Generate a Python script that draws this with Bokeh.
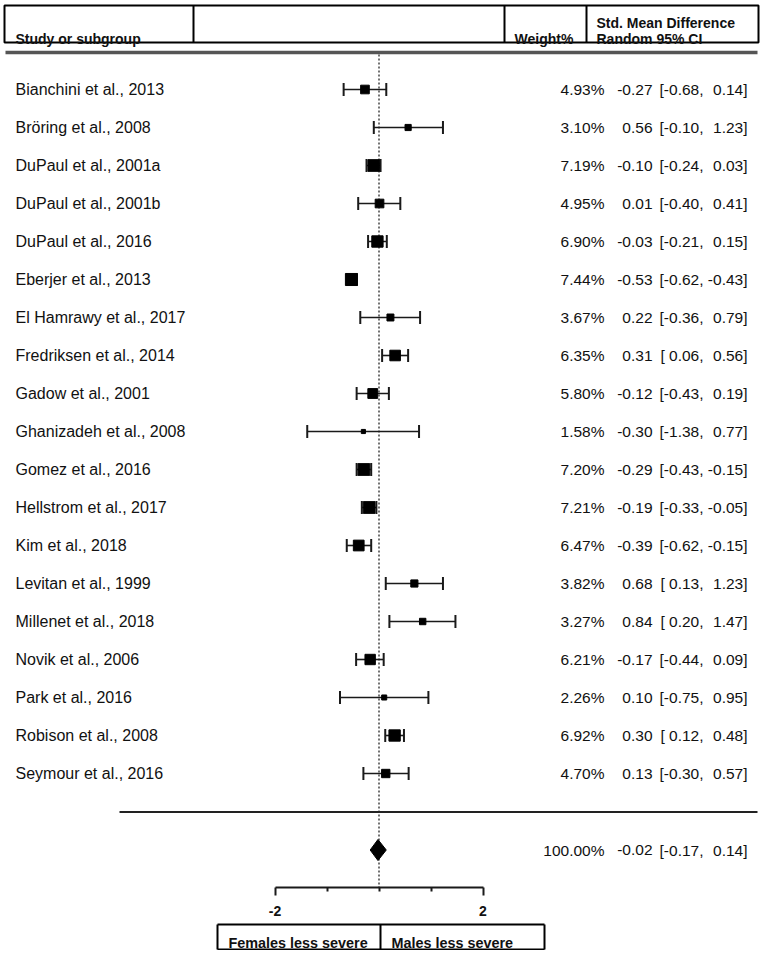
import math
from bokeh.plotting import figure
from bokeh.models import Range1d, LinearAxis, FixedTicker, ColumnDataSource
from bokeh.core.properties import value
from bokeh.embed import file_html
from bokeh.resources import INLINE

# ---------------- data ----------------
studies = [
    "Bianchini et al., 2013", "Bröring et al., 2008", "DuPaul et al., 2001a",
    "DuPaul et al., 2001b", "DuPaul et al., 2016", "Eberjer et al., 2013",
    "El Hamrawy et al., 2017", "Fredriksen et al., 2014", "Gadow et al., 2001",
    "Ghanizadeh et al., 2008", "Gomez et al., 2016", "Hellstrom et al., 2017",
    "Kim et al., 2018", "Levitan et al., 1999", "Millenet et al., 2018",
    "Novik et al., 2006", "Park et al., 2016", "Robison et al., 2008",
    "Seymour et al., 2016",
]
weights = [4.93, 3.10, 7.19, 4.95, 6.90, 7.44, 3.67, 6.35, 5.80, 1.58,
           7.20, 7.21, 6.47, 3.82, 3.27, 6.21, 2.26, 6.92, 4.70]
smd = [-0.27, 0.56, -0.10, 0.01, -0.03, -0.53, 0.22, 0.31, -0.12, -0.30,
       -0.29, -0.19, -0.39, 0.68, 0.84, -0.17, 0.10, 0.30, 0.13]
ci_low = [-0.68, -0.10, -0.24, -0.40, -0.21, -0.62, -0.36, 0.06, -0.43, -1.38,
          -0.43, -0.33, -0.62, 0.13, 0.20, -0.44, -0.75, 0.12, -0.30]
ci_high = [0.14, 1.23, 0.03, 0.41, 0.15, -0.43, 0.79, 0.56, 0.19, 0.77,
           -0.15, -0.05, -0.15, 1.23, 1.47, 0.09, 0.95, 0.48, 0.57]

total_weight = 100.00
total_smd = -0.02
total_low = -0.17
total_high = 0.14

axis_ticks = [-2, 2]
axis_minor_ticks = [-1, 0, 1]
axis_tick_labels = ["-2", "2"]
header_left = "Study or subgroup"
header_weight = "Weight%"
header_effect = ["Std. Mean Difference", "Random 95% CI"]
direction_labels = ["Females less severe", "Males less severe"]

# ---------------- layout helpers (page pixel -> data) ----------------
W, H = 762, 950
OX, OY = 0, 0                # page position of the figure
X0, K = 378.5, 52.0          # page x of zero effect, pixels per unit
ROW0, ROWH = 89.0, 38.0      # page y of first row, row spacing


def px(x):
    return (x - X0) / K


def py(y):
    return (y - ROW0) / ROWH


FONT = value("Liberation Sans")
INK = "#111111"
FS = "15.5px"

p = figure(width=W, height=H,
           x_range=Range1d(px(OX), px(OX + W)),
           y_range=Range1d(py(OY + H), py(OY)),
           x_axis_type=None, y_axis_type=None,
           output_backend="svg", toolbar_location=None,
           min_border=0, outline_line_color=None,
           background_fill_color="white", border_fill_color="white")

n = len(studies)
rows = list(range(n))
src = ColumnDataSource(dict(
    y=rows, name=studies, w=weights, smd=smd, lo=ci_low, hi=ci_high,
    size=[2.0 + 1.35 * w for w in weights],
    wtxt=[f"{w:.2f}%" for w in weights],
    stxt=[f"{s:.2f}" for s in smd],
    lotxt=[f"[{l:5.2f}," for l in ci_low],
    hitxt=[f"{h:.2f}]" for h in ci_high],
))

# header box
p.quad(left=px(4), right=px(758), top=py(5), bottom=py(42),
       fill_color=None, line_color="black", line_width=2)
p.segment(x0=[px(193), px(504), px(586)], y0=[py(5)] * 3,
          x1=[px(193), px(504), px(586)], y1=[py(42)] * 3,
          line_color="black", line_width=2)
p.text(x=[px(15), px(514)], y=[py(38.5)] * 2, text=[header_left, header_weight],
       text_font=FONT, text_font_size="14px", text_font_style="bold",
       text_color=INK, text_baseline="alphabetic", text_align="left")
p.text(x=[px(596), px(596)], y=[py(22), py(38.5)], text=header_effect,
       text_font=FONT, text_font_size="14px", text_font_style="bold",
       text_color=INK, text_baseline="alphabetic", text_align="left")

# thick separator under header
p.segment(x0=[px(5)], y0=[py(52)], x1=[px(757)], y1=[py(52)],
          line_color="#555555", line_width=3.5)

# null line
p.segment(x0=[0], y0=[py(54)], x1=[0], y1=[py(887)],
          line_color="#444444", line_width=1.5, line_dash="2 2")

# study rows
p.segment(x0="lo", y0="y", x1="hi", y1="y", source=src,
          line_color="#1a1a1a", line_width=1.6)
p.scatter(x="lo", y="y", source=src, marker="dash", angle=math.pi / 2,
          size=13, line_color="#1a1a1a", line_width=2)
p.scatter(x="hi", y="y", source=src, marker="dash", angle=math.pi / 2,
          size=13, line_color="#1a1a1a", line_width=2)
p.scatter(x="smd", y="y", source=src, marker="square", size="size",
          fill_color="black", line_color="black", line_width=1)

p.text(x=px(15), y="y", text="name", source=src, text_font=FONT,
       text_font_size="16px", text_color=INK, text_baseline="middle",
       text_align="left")
p.text(x=px(604), y="y", text="wtxt", source=src, text_font=FONT,
       text_font_size=FS, text_color=INK, text_baseline="middle",
       text_align="right")
p.text(x=px(652), y="y", text="stxt", source=src, text_font=FONT,
       text_font_size=FS, text_color=INK, text_baseline="middle",
       text_align="right")
p.text(x=px(703), y="y", text="lotxt", source=src, text_font=FONT,
       text_font_size=FS, text_color=INK, text_baseline="middle",
       text_align="right")
p.text(x=px(747), y="y", text="hitxt", source=src, text_font=FONT,
       text_font_size=FS, text_color=INK, text_baseline="middle",
       text_align="right")

# overall line and diamond
p.segment(x0=[px(119)], y0=[py(811.5)], x1=[px(757)], y1=[py(811.5)],
          line_color="#222222", line_width=2)
ys = py(849.5)
dh = 10.5 / ROWH
p.patch(x=[total_low, total_smd, total_high, total_smd],
        y=[ys, ys - dh, ys, ys + dh], fill_color="black", line_color="black")
tot_kw = dict(text_font=FONT, text_font_size=FS, text_color=INK,
              text_baseline="middle", text_align="right")
p.text(x=[px(604)], y=[ys], text=[f"{total_weight:.2f}%"], **tot_kw)
p.text(x=[px(652)], y=[ys], text=[f"{total_smd:.2f}"], **tot_kw)
p.text(x=[px(703)], y=[ys], text=[f"[{total_low:5.2f},"], **tot_kw)
p.text(x=[px(747)], y=[ys], text=[f"{total_high:.2f}]"], **tot_kw)

# x axis at fixed location
ax = LinearAxis(fixed_location=py(887), bounds=(axis_ticks[0], axis_ticks[-1]),
                ticker=FixedTicker(ticks=axis_ticks, minor_ticks=axis_minor_ticks),
                major_label_overrides=dict(zip(axis_ticks, axis_tick_labels)))
ax.axis_line_width = 2
ax.axis_line_color = "#1a1a1a"
ax.major_tick_line_width = 2
ax.major_tick_line_color = "#1a1a1a"
ax.major_tick_out = 8
ax.major_tick_in = 0
ax.minor_tick_line_width = 2
ax.minor_tick_line_color = "#1a1a1a"
ax.minor_tick_out = 4
ax.minor_tick_in = 0
ax.major_label_text_font = "Liberation Sans"
ax.major_label_text_font_style = "bold"
ax.major_label_text_font_size = "14px"
ax.major_label_text_color = INK
ax.major_label_standoff = 10
p.add_layout(ax, "below")

# direction boxes
p.segment(x0=[px(217), px(217), px(380), px(544), px(217)],
          y0=[py(924), py(924), py(924), py(924), py(949)],
          x1=[px(544), px(217), px(380), px(544), px(544)],
          y1=[py(924), py(949), py(949), py(949), py(949)],
          line_color="black", line_width=2)
p.text(x=[px(228), px(391)], y=[py(942)] * 2, text=direction_labels,
       text_font=FONT, text_font_size="14.4px", text_font_style="bold",
       text_color=INK, text_baseline="alphabetic", text_align="left")

open("out.html", "w").write(file_html(p, INLINE))
